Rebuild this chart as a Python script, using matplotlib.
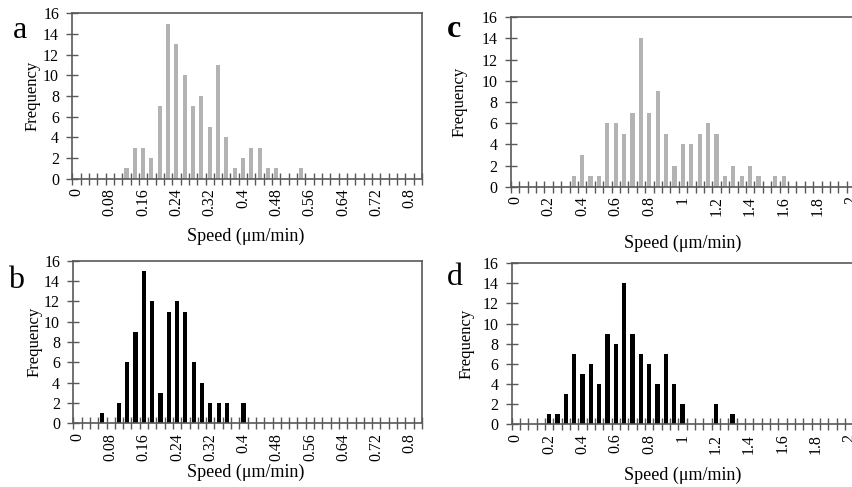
import matplotlib
matplotlib.use("Agg")
import matplotlib.pyplot as plt
import numpy as np

plt.rcParams['font.family'] = ['Liberation Serif', 'DejaVu Serif']

# speed bins (category axis), 0.02 steps for a/b and 0.05 steps for c/d
bins_ab = [round(0.02 * i, 2) for i in range(42)]
bins_cd = [round(0.05 * i, 2) for i in range(43)]

labels_ab = ['0', '0.08', '0.16', '0.24', '0.32', '0.4', '0.48', '0.56', '0.64', '0.72', '0.8']
labels_cd = ['0', '0.2', '0.4', '0.6', '0.8', '1', '1.2', '1.4', '1.6', '1.8', '2']

freq_a = [0, 0, 0, 0, 0, 0, 1, 3, 3, 2, 7, 15, 13, 10, 7, 8, 5, 11, 4, 1, 2,
          3, 3, 1, 1, 0, 0, 1, 0, 0, 0, 0, 0, 0, 0, 0, 0, 0, 0, 0, 0, 0]
freq_b = [0, 0, 0, 1, 0, 2, 6, 9, 15, 12, 3, 11, 12, 11, 6, 4, 2, 2, 2, 0, 2,
          0, 0, 0, 0, 0, 0, 0, 0, 0, 0, 0, 0, 0, 0, 0, 0, 0, 0, 0, 0, 0]
freq_c = [0, 0, 0, 0, 0, 0, 0, 1, 3, 1, 1, 6, 6, 5, 7, 14, 7, 9, 5, 2, 4,
          4, 5, 6, 5, 1, 2, 1, 2, 1, 0, 1, 1, 0, 0, 0, 0, 0, 0, 0, 0, 0, 0]
freq_d = [0, 0, 0, 0, 1, 1, 3, 7, 5, 6, 4, 9, 8, 14, 9, 7, 6, 4, 7, 4, 2,
          0, 0, 0, 2, 0, 1, 0, 0, 0, 0, 0, 0, 0, 0, 0, 0, 0, 0, 0, 0, 0, 0]

W, H = 853, 487
fig = plt.figure(figsize=(W / 100, H / 100), dpi=100)

AXC = '#595959'


def panel(left, top, right, bottom, bins, freq, labels, color):
    ax = fig.add_axes([left / W, 1 - bottom / H, (right - left) / W, (bottom - top) / H])
    n = len(bins)
    x = np.arange(n)
    ax.bar(x, freq, width=0.5, color=color, zorder=1)
    ax.set_xlim(-0.5, n - 0.5)
    ax.set_ylim(0, 16)
    ax.set_yticks(range(0, 17, 2))
    # tick marks between categories, labels on every 4th category
    ax.set_xticks(np.arange(-0.5, n, 1.0))
    ax.set_xticklabels([])
    ax.set_xticks(x[::4][:len(labels)], minor=True)
    ax.set_xticklabels(labels, minor=True, rotation=90)
    ax.tick_params(axis='x', which='major', direction='inout', length=8, width=1, color=AXC)
    ax.tick_params(axis='x', which='minor', length=0, pad=7, labelsize=11.5)
    ax.tick_params(axis='y', direction='inout', length=9, width=1, color=AXC, pad=5, labelsize=11.5)
    for s in ax.spines.values():
        s.set_color(AXC)
        s.set_linewidth(1.2)
    return ax


panel(72.3, 13.3, 422, 178.7, bins_ab, freq_a, labels_ab, '#b3b3b3')
panel(73.3, 260.7, 422, 423.3, bins_ab, freq_b, labels_ab, 'black')
panel(510.7, 17.3, 510.7 + 43 * 8.4, 186.7, bins_cd, freq_c, labels_cd, '#b3b3b3')
panel(511.7, 263.3, 511.7 + 43 * 8.33, 424, bins_cd, freq_d, labels_cd, 'black')


def ftext(x, y, s, **kw):
    fig.text(x / W, 1 - y / H, s, **kw)


ftext(13, 38, 'a', fontsize=23, va='baseline')
ftext(8, 288, 'b', fontsize=23, va='baseline')
ftext(447, 37, 'c', fontsize=23, va='baseline', fontweight='bold')
ftext(447, 285, 'd', fontsize=23, va='baseline')

for x, y in [(33, 96), (35, 342), (460, 102), (467, 344)]:
    ftext(x, y, 'Frequency', fontsize=12, rotation=90, ha='center', va='center')
for x, y in [(246, 236), (246, 472), (683, 243), (683, 475)]:
    ftext(x, y, 'Speed (\u03bcm/min)', fontsize=13, ha='center', va='center')

fig.savefig('out.png', dpi=100)
